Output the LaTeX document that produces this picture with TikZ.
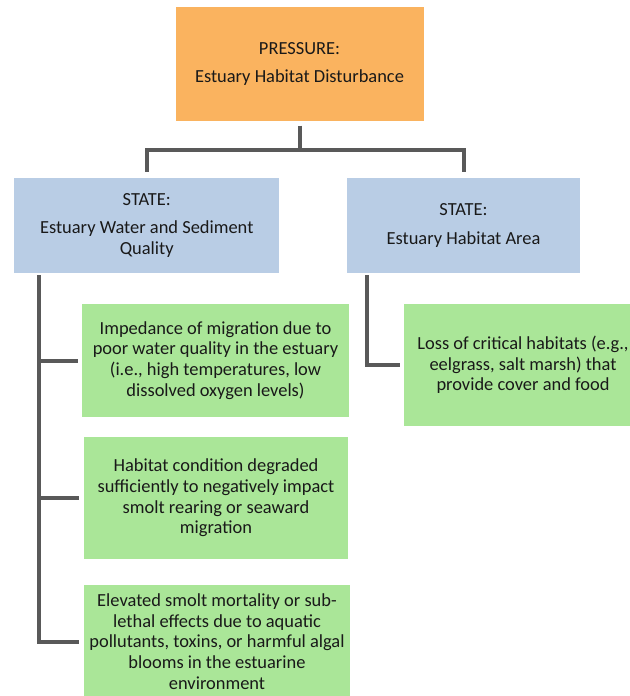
\documentclass[tikz,border=0pt]{standalone}
\usepackage{fontspec}
\setmainfont{Carlito}
\definecolor{pressorange}{RGB}{250, 179, 95}
\definecolor{stateblue}{RGB}{185, 205, 229}
\definecolor{effectgreen}{RGB}{170, 230, 152}
\definecolor{linkgray}{RGB}{89, 89, 89}
\usetikzlibrary{positioning, calc}

\begin{document}
\begin{tikzpicture}[x=1bp, y=-1bp,
    box/.style={align=center, inner sep=0pt, text=black!90,
        font=\fontsize{18.5}{20.8}\selectfont},
    pressbox/.style={box, fill=pressorange},
    statebox/.style={box, fill=stateblue},
    effectbox/.style={box, fill=effectgreen},
    link/.style={draw=linkgray, line width=4bp}]
    \useasboundingbox (0,0) rectangle (630,696);

    % Pressure box
    \node[pressbox, minimum width=248bp, minimum height=113bp] (press) at (299.5,64)
        {PRESSURE:\\[8bp] Estuary Habitat Disturbance};

    % State boxes
    \node[statebox, minimum width=264.5bp, minimum height=95bp] (lstate) at (146.75,225.5)
        {STATE:\\[7bp] Estuary Water and Sediment\\ Quality};
    \node[statebox, minimum width=233bp, minimum height=95bp] (rstate) at (463.5,225.5)
        {STATE:\\[8bp] Estuary Habitat Area};

    % Effect boxes under water quality
    \node[effectbox, minimum width=267bp, minimum height=113bp] (gmig) at (215.5,360.5)
        {Impedance of migration due to\\ poor water quality in the estuary\\
         (i.e., high temperatures, low\\ dissolved oxygen levels)};
    \node[effectbox, minimum width=264bp, minimum height=122bp] (gcond) at (216,498)
        {Habitat condition degraded\\ sufficiently to negatively impact\\
         smolt rearing or seaward\\ migration};
    \node[effectbox, minimum width=266bp, minimum height=113bp] (gmort) at (217,641.5)
        {Elevated smolt mortality or sub-\\ lethal effects due to aquatic\\
         pollutants, toxins, or harmful algal\\ blooms in the estuarine\\ environment};

    % Effect box under habitat area
    \node[effectbox, minimum width=238bp, minimum height=122bp] (gloss) at (523,365)
        {Loss of critical habitats (e.g.,\\ eelgrass, salt marsh) that\\ provide cover and food};

    % Pressure to states
    \coordinate (hub) at (299.5,150);
    \draw[link, shorten <=5bp] (press.south) -- (hub);
    \draw[link, shorten >=6bp] (hub) -| (lstate.north);
    \draw[link, shorten >=6bp] (hub) -| (rstate.north);

    % Left trunk
    \coordinate (ltop) at ([xshift=24.5bp]lstate.south west);
    \draw[link, shorten <=2bp, shorten >=4bp] (ltop) |- (gmig.west);
    \draw[link, shorten <=2bp, shorten >=5bp] (ltop) |- (gcond.west);
    \draw[link, shorten <=2bp, shorten >=5bp] (ltop) |- (gmort.west);

    % Right trunk
    \coordinate (rtop) at ([xshift=20bp]rstate.south west);
    \draw[link, shorten <=2bp, shorten >=4bp] (rtop) |- (gloss.west);
\end{tikzpicture}
\end{document}
